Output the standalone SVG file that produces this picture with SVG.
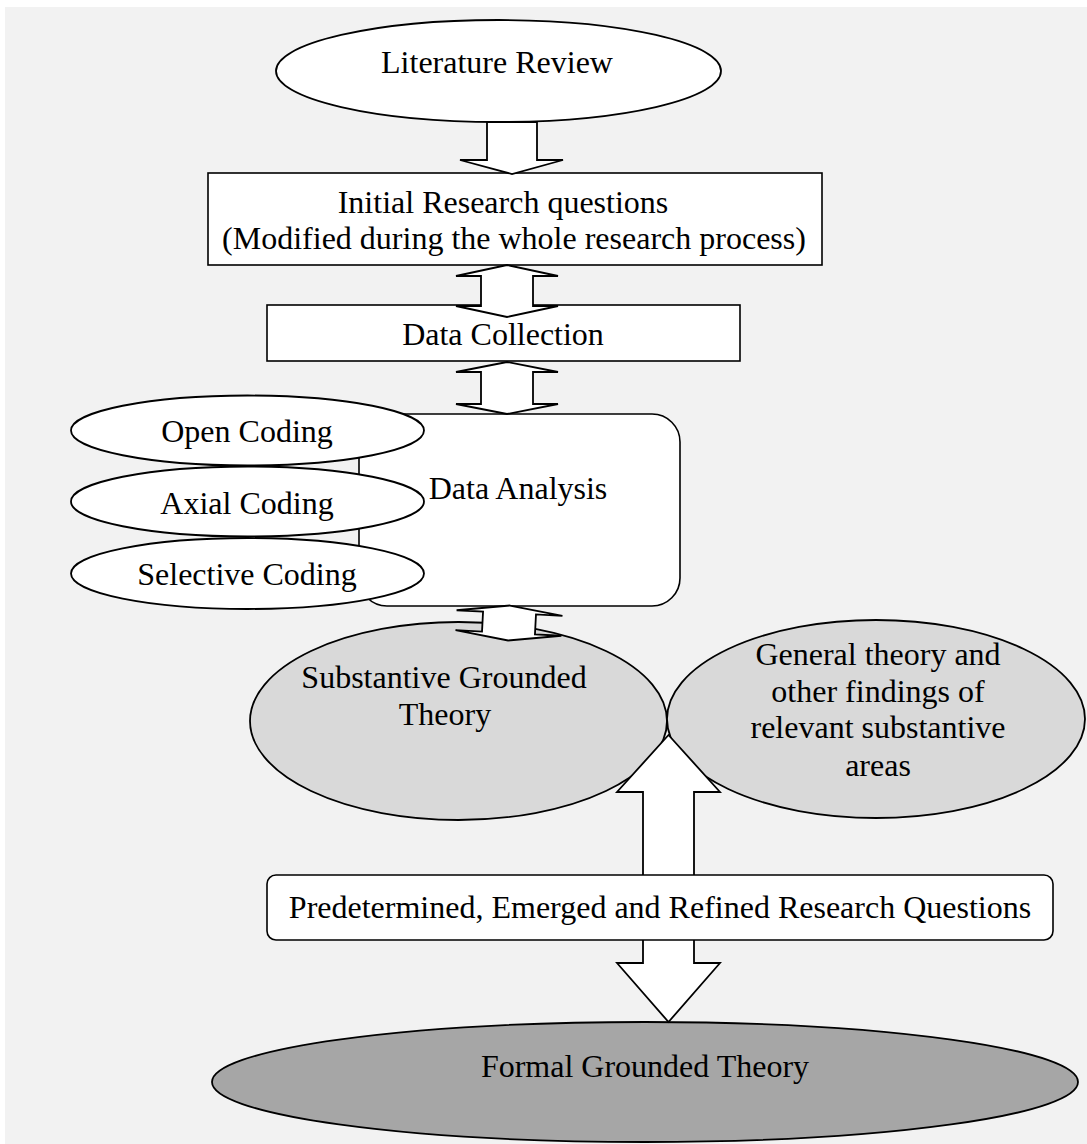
<svg xmlns="http://www.w3.org/2000/svg" width="1087" height="1144" viewBox="0 0 1087 1144">
  <style>
    .lbl { font-family: "Liberation Serif", "Times New Roman", serif; font-size: 32px; fill: #000; text-anchor: middle; }
    .box { fill: #fff; stroke: #000; stroke-width: 1.6; }
    .oval { fill: #fff; stroke: #000; stroke-width: 1.8; }
    .grey { fill: #d9d9d9; stroke: #000; stroke-width: 1.8; }
    .dark { fill: #a6a6a6; stroke: #000; stroke-width: 1.8; }
    .arrow { fill: #fff; stroke: #000; stroke-width: 1.8; stroke-linejoin: miter; }
  </style>

  <!-- page background -->
  <rect x="0" y="0" width="1087" height="1144" fill="#fff"/>
  <rect x="5" y="7" width="1082" height="1137" fill="#f2f2f2"/>

  <g id="literature-review">
    <ellipse class="oval" cx="498.5" cy="71" rx="222.5" ry="51"/>
    <text class="lbl" x="497" y="73">Literature Review</text>
  </g>

  <g id="initial-research-questions">
    <rect class="box" x="208" y="173" width="614" height="92"/>
    <text class="lbl" x="503" y="213">Initial Research questions</text>
    <text class="lbl" x="514" y="249">(Modified during the whole research process)</text>
  </g>

  <g id="data-collection">
    <rect class="box" x="267" y="305" width="473" height="56"/>
    <text class="lbl" x="503" y="345">Data Collection</text>
  </g>

  <g id="data-analysis">
    <rect class="box" x="359" y="414" width="321" height="192" rx="28" ry="28"/>
    <text class="lbl" x="518" y="499">Data Analysis</text>
  </g>

  <g id="open-coding">
    <ellipse class="oval" cx="247.5" cy="430.5" rx="176.5" ry="35"/>
    <text class="lbl" x="247" y="442">Open Coding</text>
  </g>

  <g id="axial-coding">
    <ellipse class="oval" cx="247.5" cy="501.5" rx="176.5" ry="35"/>
    <text class="lbl" x="247" y="514">Axial Coding</text>
  </g>

  <g id="selective-coding">
    <ellipse class="oval" cx="247.5" cy="573.5" rx="176.5" ry="35.5"/>
    <text class="lbl" x="247" y="585">Selective Coding</text>
  </g>

  <g id="substantive-grounded-theory">
    <ellipse class="grey" cx="458.5" cy="721" rx="208.5" ry="99"/>
    <text class="lbl" x="444" y="688">Substantive Grounded</text>
    <text class="lbl" x="445" y="725">Theory</text>
  </g>

  <g id="general-theory">
    <ellipse class="grey" cx="876" cy="719" rx="209" ry="99"/>
    <text class="lbl" x="878" y="665">General theory and</text>
    <text class="lbl" x="878" y="702">other findings of</text>
    <text class="lbl" x="878" y="738">relevant substantive</text>
    <text class="lbl" x="878" y="776">areas</text>
  </g>

  <g id="formal-grounded-theory">
    <ellipse class="dark" cx="645" cy="1082" rx="433" ry="60"/>
    <text class="lbl" x="645" y="1077">Formal Grounded Theory</text>
  </g>

  <!-- block arrows between the stages -->
  <g id="connectors">
    <polygon class="arrow" points="487,122 537,122 537,160 563,160 512,174 460,160 487,160"/>
    <polygon class="arrow" points="507,265 558,276 533,276 533,306 558,306 507,317 456,306 481,306 481,276 456,276"/>
    <polygon class="arrow" points="507,362 558,372 533,372 533,404 558,404 507,414 456,404 481,404 481,372 456,372"/>
    <polygon class="arrow" transform="rotate(3 509 623)" points="509,605.5 562,613 535.5,613 535.5,633 562,633 509,640.5 456,633 482.5,633 482.5,613 456,613"/>
    <polygon class="arrow" points="668.5,735 720,792 694,792 694,963 720,963 668.5,1022 617,963 643,963 643,792 617,792"/>
  </g>

  <g id="refined-research-questions">
    <rect class="box" x="267" y="875" width="786" height="65" rx="9" ry="9"/>
    <text class="lbl" x="660" y="918">Predetermined, Emerged and Refined Research Questions</text>
  </g>
</svg>
